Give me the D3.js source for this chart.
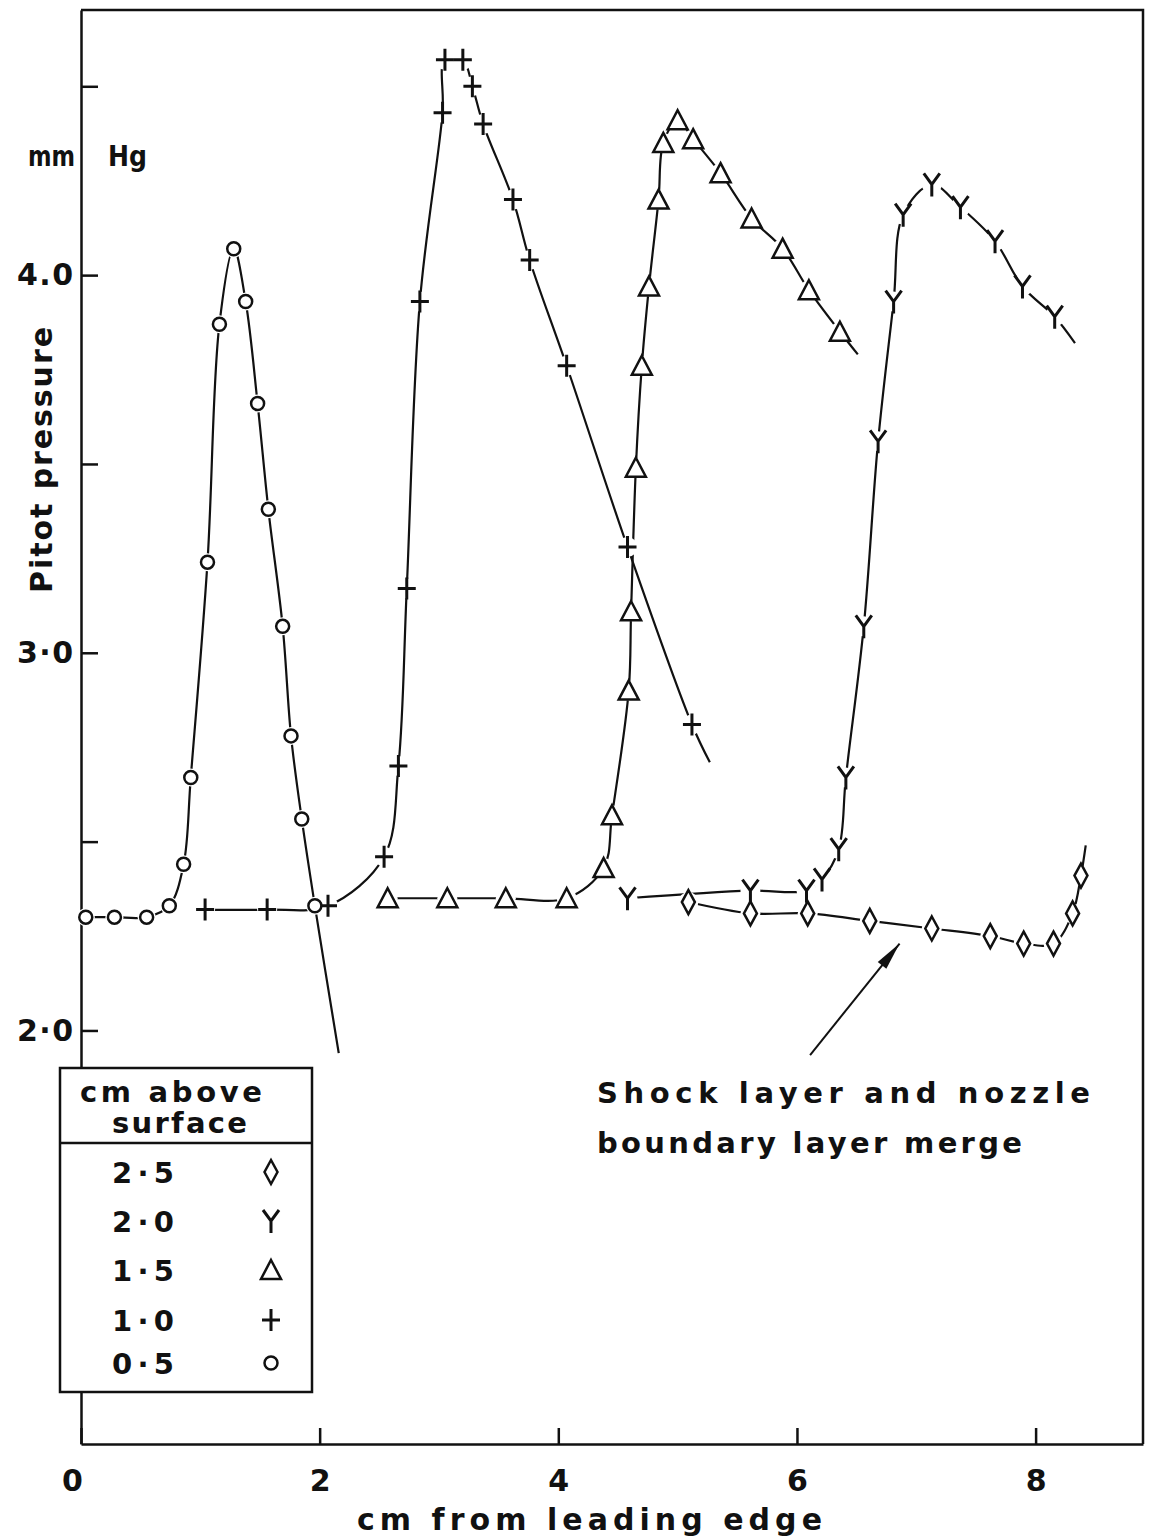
<!DOCTYPE html>
<html>
<head>
<meta charset="utf-8">
<script src="https://cdn.jsdelivr.net/npm/d3@7"></script>
<style>
  body { margin: 0; background: #fff; }
  text { font-family: "DejaVu Sans", sans-serif; font-weight: bold; fill: #111; }
</style>
</head>
<body>
<div id="chart"></div>
<script>
// valori letti a occhio dal grafico: x = cm dal bordo d'attacco, y = pressione di Pitot (mm Hg)
const x05 = [0.04, 0.28, 0.55, 0.74, 0.86, 0.92, 1.06, 1.16, 1.28, 1.38, 1.48, 1.57, 1.69, 1.76, 1.85, 1.96];
const p05 = [2.30, 2.30, 2.30, 2.33, 2.44, 2.67, 3.24, 3.87, 4.07, 3.93, 3.66, 3.38, 3.07, 2.78, 2.56, 2.33];
const end05 = [2.16, 1.94];

const x10 = [1.04, 1.56, 2.07, 2.54, 2.66, 2.73, 2.84, 3.03, 3.05, 3.20, 3.28, 3.37, 3.62, 3.76, 4.07, 4.58, 5.12];
const p10 = [2.32, 2.32, 2.33, 2.46, 2.70, 3.17, 3.93, 4.43, 4.57, 4.57, 4.50, 4.40, 4.20, 4.04, 3.76, 3.28, 2.81];
const end10 = [5.27, 2.71];

const x15 = [2.57, 3.07, 3.56, 4.07, 4.38, 4.45, 4.59, 4.61, 4.65, 4.70, 4.76, 4.84, 4.88, 5.00, 5.13, 5.36, 5.62, 5.88, 6.10, 6.36];
const p15 = [2.35, 2.35, 2.35, 2.35, 2.43, 2.57, 2.90, 3.11, 3.49, 3.76, 3.97, 4.20, 4.35, 4.41, 4.36, 4.27, 4.15, 4.07, 3.96, 3.85];
const end15 = [6.51, 3.79];

const x20 = [4.58, 5.61, 6.08, 6.21, 6.35, 6.41, 6.56, 6.68, 6.81, 6.89, 7.13, 7.37, 7.66, 7.89, 8.16];
const p20 = [2.35, 2.37, 2.37, 2.40, 2.48, 2.67, 3.07, 3.56, 3.93, 4.16, 4.24, 4.18, 4.09, 3.97, 3.89];
const end20 = [8.33, 3.82];

const x25 = [5.09, 5.61, 6.09, 6.61, 7.13, 7.62, 7.90, 8.15, 8.31, 8.38];
const p25 = [2.34, 2.31, 2.31, 2.29, 2.27, 2.25, 2.23, 2.23, 2.31, 2.41];
const end25 = [8.42, 2.49];

const heightLabels = ["2·5", "2·0", "1·5", "1·0", "0·5"];
const markerTypes = ["diamond", "y", "triangle", "plus", "circle"];

const xTicks = [0, 2, 4, 6, 8];
const yTicks = [2.0, 2.5, 3.0, 3.5, 4.0, 4.5];
const yTickLabels = { 2: "2·0", 3: "3·0", 4: "4.0" };

const arrowFrom = [6.11, 1.935];
const arrowTo = [6.86, 2.23];
const noteLines = ["Shock layer and nozzle", "boundary layer merge"];

const series = [
    { xs: x25, ys: p25, end: end25, type: "diamond" },
    { xs: x20, ys: p20, end: end20, type: "y" },
    { xs: x15, ys: p15, end: end15, type: "triangle" },
    { xs: x10, ys: p10, end: end10, type: "plus" },
    { xs: x05, ys: p05, end: end05, type: "circle" }
];

const width = 1151, height = 1539;
const svg = d3.select("#chart").append("svg").attr("width", width).attr("height", height);

const xScale = d3.scaleLinear().domain([0, 8.9]).range([81, 1143]);
const yScale = d3.scaleLinear().domain([0.905, 4.702]).range([1444, 10]);

// forma dei simboli
function markerPath(type) {
    switch (type) {
        case "plus": return "M-9,0H9M0,-11V11";
        case "triangle": return "M0,-10L10,9H-10Z";
        case "diamond": return "M0,-12L6.5,0L0,12L-6.5,0Z";
        case "y": return "M-8,-11L0,0L8,-11M0,0V12";
        default: return d3.arc()({ innerRadius: 0, outerRadius: 6.5, startAngle: 0, endAngle: 2 * Math.PI });
    }
}

// Cornice e assi
const xAxis = svg.append("g").attr("transform", `translate(0,${yScale.range()[0]})`)
    .call(d3.axisBottom(xScale).tickValues(xTicks).tickSizeInner(-16).tickSizeOuter(0).tickPadding(26));
xAxis.selectAll("text").style("font-size", "30px").attr("dx", d => d === 0 ? -9 : 0);

const yAxis = svg.append("g").attr("transform", `translate(${xScale(0)},0)`)
    .call(d3.axisLeft(yScale).tickValues(yTicks).tickSizeInner(-17).tickSizeOuter(0).tickPadding(8)
        .tickFormat(d => yTickLabels[d] || ""));
yAxis.selectAll("text").style("font-size", "30px")
    .filter(d => yTickLabels[d]).attr("textLength", 56).attr("lengthAdjust", "spacing");

svg.selectAll(".domain, .tick line").attr("stroke", "#111").attr("stroke-width", 2.5);
svg.selectAll(".tick text").attr("fill", "#111").attr("font-family", null);

svg.append("path")
    .attr("d", `M${xScale(0)},${yScale(4.702)}H${xScale(8.9)}V${yScale(0.905)}`)
    .attr("fill", "none").attr("stroke", "#111").attr("stroke-width", 2.5);

// Etichette degli assi
svg.append("text").attr("transform", "translate(52,460) rotate(-90)")
    .attr("text-anchor", "middle").style("font-size", "30px")
    .attr("textLength", 266).attr("lengthAdjust", "spacing").text("Pitot pressure");
svg.append("text").attr("x", 28).attr("y", 166).style("font-size", "28px")
    .attr("textLength", 47).attr("lengthAdjust", "spacingAndGlyphs").text("mm");
svg.append("text").attr("x", 108).attr("y", 166).style("font-size", "28px")
    .attr("textLength", 39).attr("lengthAdjust", "spacingAndGlyphs").text("Hg");
svg.append("text").attr("x", 357).attr("y", 1530).style("font-size", "30px")
    .attr("textLength", 465).attr("lengthAdjust", "spacing").text("cm from leading edge");

// Curve
const line = d3.line().x(d => xScale(d[0])).y(d => yScale(d[1])).curve(d3.curveCatmullRom.alpha(0.5));
series.forEach(s => {
    const pts = s.xs.map((x, i) => [x, s.ys[i]]).concat([s.end]);
    svg.append("path").attr("d", line(pts)).attr("fill", "none")
        .attr("stroke", "#111").attr("stroke-width", 2.2);
});

// alone bianco intorno ai simboli, come nel disegno a mano
series.forEach(s => {
    svg.append("g").selectAll("circle").data(s.xs).enter().append("circle")
        .attr("cx", d => xScale(d)).attr("cy", (d, i) => yScale(s.ys[i]))
        .attr("r", s.type === "circle" ? 9 : 10).attr("fill", "#fff");
});

series.forEach(s => {
    svg.append("g").selectAll("path").data(s.xs).enter().append("path")
        .attr("transform", (d, i) => `translate(${xScale(d)},${yScale(s.ys[i])})`)
        .attr("d", markerPath(s.type))
        .attr("fill", s.type === "circle" || s.type === "triangle" || s.type === "diamond" ? "#fff" : "none")
        .attr("stroke", "#111").attr("stroke-width", s.type === "plus" || s.type === "y" ? 3 : 2.5)
        .attr("stroke-linejoin", "miter");
});

// Freccia e nota
svg.append("defs").append("marker").attr("id", "arrow")
    .attr("viewBox", "-30 -7 32 14").attr("refX", 0).attr("refY", 0)
    .attr("markerWidth", 32).attr("markerHeight", 14).attr("markerUnits", "userSpaceOnUse")
    .attr("orient", "auto")
    .append("path").attr("d", "M0,0L-28,-5.5L-28,5.5Z").attr("fill", "#111");
svg.append("line")
    .attr("x1", xScale(arrowFrom[0])).attr("y1", yScale(arrowFrom[1]))
    .attr("x2", xScale(arrowTo[0])).attr("y2", yScale(arrowTo[1]))
    .attr("stroke", "#111").attr("stroke-width", 2).attr("marker-end", "url(#arrow)");

const noteWidths = [493, 425];
noteLines.forEach((t, i) => {
    svg.append("text").attr("x", 597).attr("y", 1103 + i * 50).style("font-size", "29px")
        .attr("textLength", noteWidths[i]).attr("lengthAdjust", "spacing").text(t);
});

// Legenda
const legend = svg.append("g");
legend.append("rect").attr("x", 60).attr("y", 1068).attr("width", 252).attr("height", 324)
    .attr("fill", "#fff").attr("stroke", "#111").attr("stroke-width", 2.5);
legend.append("line").attr("x1", 60).attr("x2", 312).attr("y1", 1143).attr("y2", 1143)
    .attr("stroke", "#111").attr("stroke-width", 2.5);
legend.append("text").attr("x", 80).attr("y", 1102).style("font-size", "29px")
    .attr("textLength", 182).attr("lengthAdjust", "spacing").text("cm above");
legend.append("text").attr("x", 112).attr("y", 1133).style("font-size", "29px")
    .attr("textLength", 135).attr("lengthAdjust", "spacing").text("surface");

const rowY = [1172, 1221, 1270, 1320, 1363];
heightLabels.forEach((lab, i) => {
    legend.append("text").attr("x", 112).attr("y", rowY[i] + 11).style("font-size", "29px")
        .attr("textLength", 62).attr("lengthAdjust", "spacing").text(lab);
    legend.append("path").attr("transform", `translate(271,${rowY[i]})`)
        .attr("d", markerPath(markerTypes[i]))
        .attr("fill", "none").attr("stroke", "#111")
        .attr("stroke-width", markerTypes[i] === "plus" || markerTypes[i] === "y" ? 3 : 2.5);
});
</script>
</body>
</html>
